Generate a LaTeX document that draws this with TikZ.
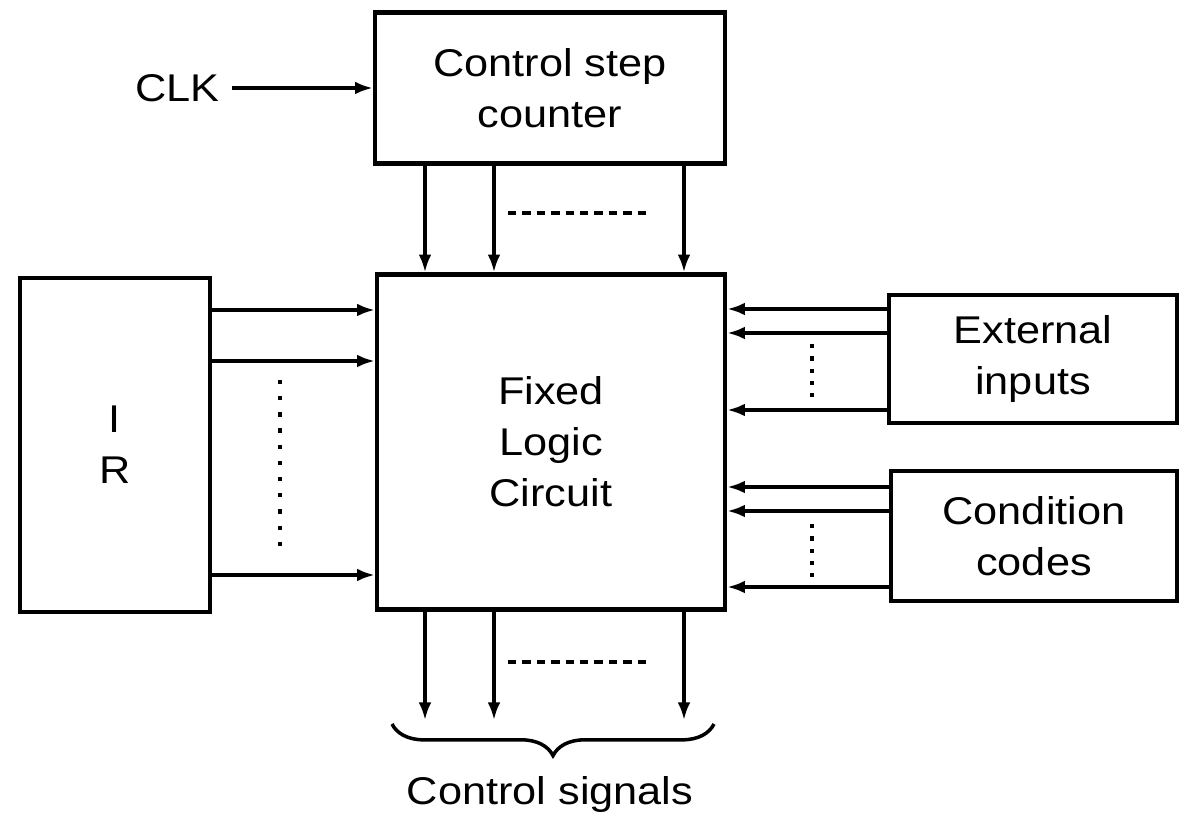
\documentclass[tikz,border=0pt]{standalone}
\usepackage{fontspec}
\setmainfont{Liberation Sans}[FakeStretch=1.12]
\usetikzlibrary{arrows.meta,decorations.pathreplacing}
\begin{document}
\begin{tikzpicture}[x=0.1mm,y=-0.1mm,
  blk/.style={draw,line width=1.3pt,inner sep=0pt,align=center,font=\fontsize{11}{14.5}\selectfont},
  arr/.style={line width=0.9pt,-{Latex[length=5pt,width=3.6pt]}},
  hdash/.style={line width=1.3pt,dash pattern=on 2.4pt off 1.7pt},
  vdotsA/.style={line width=1.3pt,dash pattern=on 1.2pt off 3.4pt},
  vdotsB/.style={line width=1.3pt,dash pattern=on 1.2pt off 2.3pt},
  lbl/.style={font=\fontsize{11}{14.5}\selectfont}]
\useasboundingbox (0,0) rectangle (1180,814);
\node[blk,minimum width=35mm,minimum height=15.1mm] (csc) at (550,88) {Control step\\counter};
\node[blk,minimum width=19mm,minimum height=33.4mm] (ir) at (115,445) {I\\R};
\node[blk,minimum width=34.8mm,minimum height=33.5mm] (flc) at (551,442) {Fixed\\Logic\\Circuit};
\node[blk,minimum width=28.8mm,minimum height=12.8mm] (ext) at (1033,359) {External\\inputs};
\node[blk,minimum width=28.6mm,minimum height=13mm] (cond) at (1034,536) {Condition\\codes};
\node[lbl,anchor=east] (clk) at (232,88) {CLK};
\node[lbl] (cs) at (550,795) {Control signals};
% CLK arrow
\draw[arr] (clk.east) -- (csc.west |- clk.east);
% counter to logic
\foreach \x in {425,494,684}{
  \draw[arr] (\x,0 |- csc.south) -- (\x,0 |- flc.north);
  \draw[arr] (\x,0 |- flc.south) -- (\x,720);
}
\draw[hdash] (508,213) -- (652,213);
\draw[hdash] (508,662) -- (652,662);
% IR to logic
\foreach \y in {310,361,575}{
  \draw[arr] (ir.east |- 0,\y) -- (flc.west |- 0,\y);
}
\draw[vdotsA] (280,380) -- (280,548);
% external inputs
\foreach \y in {309,333,410}{
  \draw[arr] (ext.west |- 0,\y) -- (flc.east |- 0,\y);
}
\draw[vdotsB] (812,344) -- (812,400);
% condition codes
\foreach \y in {487,511,587}{
  \draw[arr] (cond.west |- 0,\y) -- (flc.east |- 0,\y);
}
\draw[vdotsB] (812,524) -- (812,580);
% brace
\draw[line width=1pt,decorate,
  decoration={brace,mirror,amplitude=9pt,aspect=0.5}] (392,724) -- (714,724);
\end{tikzpicture}
\end{document}
